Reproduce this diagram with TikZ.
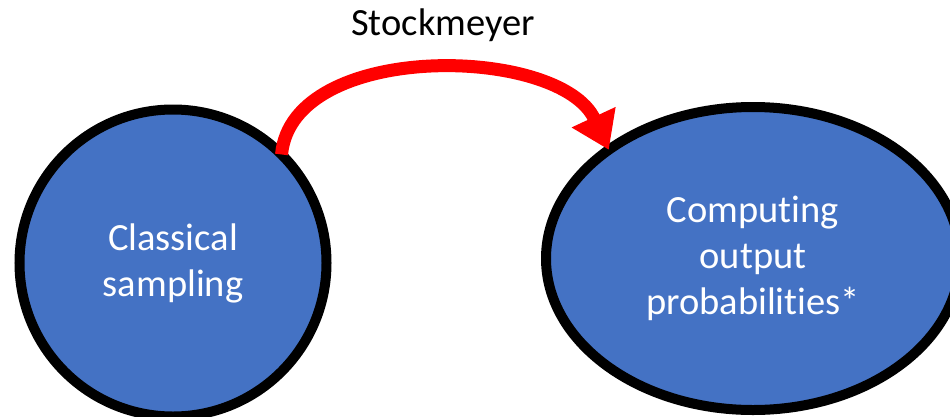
\documentclass[tikz,border=0pt]{standalone}
\usepackage{fontspec}
\setmainfont[Ligatures={NoCommon,NoRare,NoDiscretionary}]{Carlito}
\usetikzlibrary{arrows.meta,shapes.geometric}
\definecolor{officeblue}{HTML}{4472C4}
\begin{document}
\begin{tikzpicture}[x=1pt,y=-1pt,
  blob/.style={ellipse,draw=black,line width=10pt,fill=officeblue,text=white,
    align=center,inner sep=0pt,outer sep=0pt,font=\fontsize{38.5}{46}\selectfont},
  redarrow/.style={draw=red,line width=13pt,
    -{Triangle[length=36pt,width=46pt]}}]
\useasboundingbox (0,0) rectangle (950,416);
\clip (0,0) rectangle (950,416);
\node[blob,minimum width=307pt,minimum height=307pt] (L) at (173,263) {Classical\\sampling};
\node[blob,minimum width=414pt,minimum height=303pt] (R) at (753,258.5) {Computing\\output\\probabilities*};
\node[anchor=base,font=\fontsize{38.5}{46}\selectfont] (S) at (443,35) {Stockmeyer};
\draw[redarrow] (L.45) .. controls (292,40) and (560,45) .. (R.143);
\end{tikzpicture}
\end{document}
